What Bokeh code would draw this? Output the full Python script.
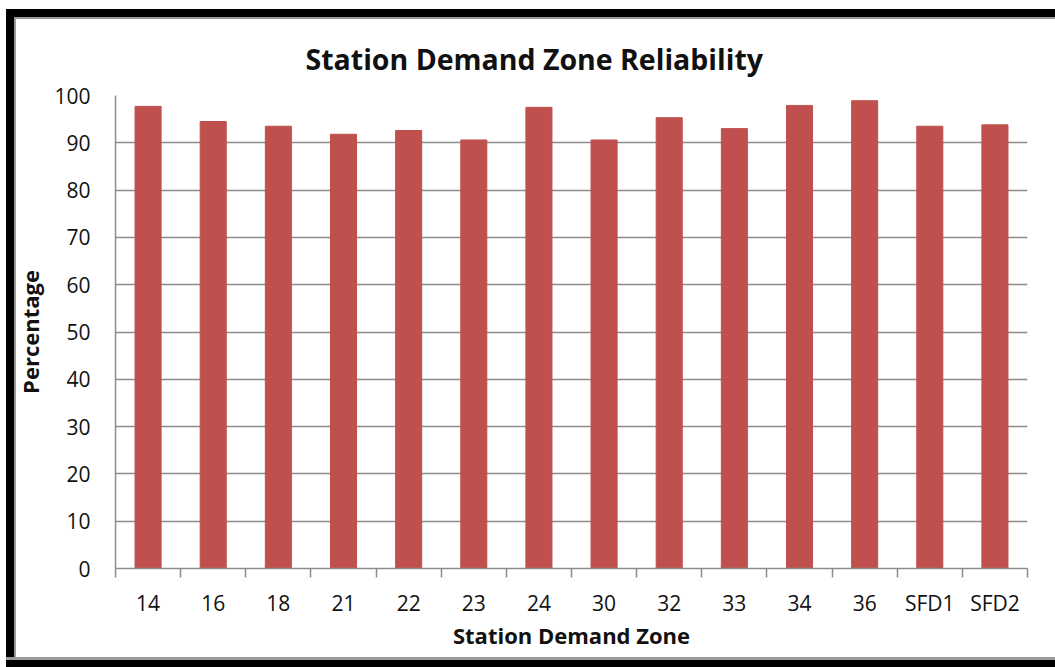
from bokeh.plotting import figure
from bokeh.models import Range1d, LinearAxis, FixedTicker, ColumnDataSource, Title
from bokeh.embed import file_html
from bokeh.resources import INLINE

zones = ["14", "16", "18", "21", "22", "23", "24", "30", "32", "33", "34", "36", "SFD1", "SFD2"]
reliability = [97.7, 94.5, 93.5, 91.8, 92.6, 90.6, 97.5, 90.6, 95.3, 93.0, 97.9, 98.9, 93.5, 93.8]
y_ticks = [0, 10, 20, 30, 40, 50, 60, 70, 80, 90, 100]

title_text = "Station Demand Zone Reliability"
x_title = "Station Demand Zone"
y_title = "Percentage"

BAR = "#C0504D"
GRID = "#8C8C8C"
TICK_FONT = "Open Sans"
TITLE_FONT = "Open Sans"
TXT = "#111111"

n = len(zones)
centers = [i + 0.5 for i in range(n)]
edges = list(range(n + 1))

p = figure(width=1055, height=667, output_backend="svg", toolbar_location=None,
           x_range=Range1d(0, n), y_range=Range1d(0, 100),
           x_axis_location=None, y_axis_location=None,
           min_border_left=115, min_border_right=28, min_border_top=95, min_border_bottom=99,
           background_fill_color="white", border_fill_color=None)
p.outline_line_color = None

# window-style frame drawn with CSS inset shadows on the plot element
p.styles = {
    "background-color": "white",
    "box-shadow": ("inset 6px 9px 0 0 white, "
                   "inset 0 -7px 0 0 black, "
                   "inset 0 -10px 0 0 #9A9A9A, "
                   "inset 14px 17px 0 0 black, "
                   "inset 16px 19px 0 0 #9A9A9A"),
}

src = ColumnDataSource(dict(x=centers, value=reliability, zone=zones))
p.vbar(x="x", top="value", width=0.4, source=src, fill_color=BAR, line_color=BAR)

# title
p.title = Title(text=title_text, align="left", offset=190, standoff=36,
                text_font=TITLE_FONT, text_font_style="bold", text_font_size="28.5px",
                text_color=TXT)

# y axis
yax = LinearAxis(ticker=FixedTicker(ticks=y_ticks), axis_label=y_title)
yax.axis_line_color = GRID
yax.axis_line_width = 1.5
yax.major_tick_out = 0
yax.major_tick_in = 0
yax.minor_tick_line_color = None
yax.major_label_standoff = 25
yax.major_label_text_font = TICK_FONT
yax.major_label_text_font_size = "21px"
yax.major_label_text_color = TXT
yax.axis_label_text_font = TITLE_FONT
yax.axis_label_text_font_style = "bold"
yax.axis_label_text_font_size = "22px"
yax.axis_label_text_color = TXT
yax.axis_label_standoff = 6
p.add_layout(yax, "left")

# gridlines
p.ygrid.ticker = FixedTicker(ticks=y_ticks)
p.ygrid.grid_line_color = GRID
p.ygrid.grid_line_width = 1.5
p.xgrid.grid_line_color = None

# x axis: labels at category centres, tick marks between categories
xax = LinearAxis(ticker=FixedTicker(ticks=centers, minor_ticks=edges), axis_label=x_title,
                 major_label_overrides={c: z for c, z in zip(centers, zones)})
xax.axis_line_color = GRID
xax.axis_line_width = 1.5
xax.major_tick_line_color = None
xax.major_tick_out = 0
xax.major_tick_in = 0
xax.minor_tick_line_color = GRID
xax.minor_tick_line_width = 1.5
xax.minor_tick_out = 9
xax.minor_tick_in = 0
xax.major_label_standoff = 11
xax.major_label_text_font = TICK_FONT
xax.major_label_text_font_size = "21px"
xax.major_label_text_color = TXT
xax.axis_label_text_font = TITLE_FONT
xax.axis_label_text_font_style = "bold"
xax.axis_label_text_font_size = "22px"
xax.axis_label_text_color = TXT
xax.axis_label_standoff = 0
p.add_layout(xax, "below")

open("out.html", "w").write(file_html(p, INLINE))
